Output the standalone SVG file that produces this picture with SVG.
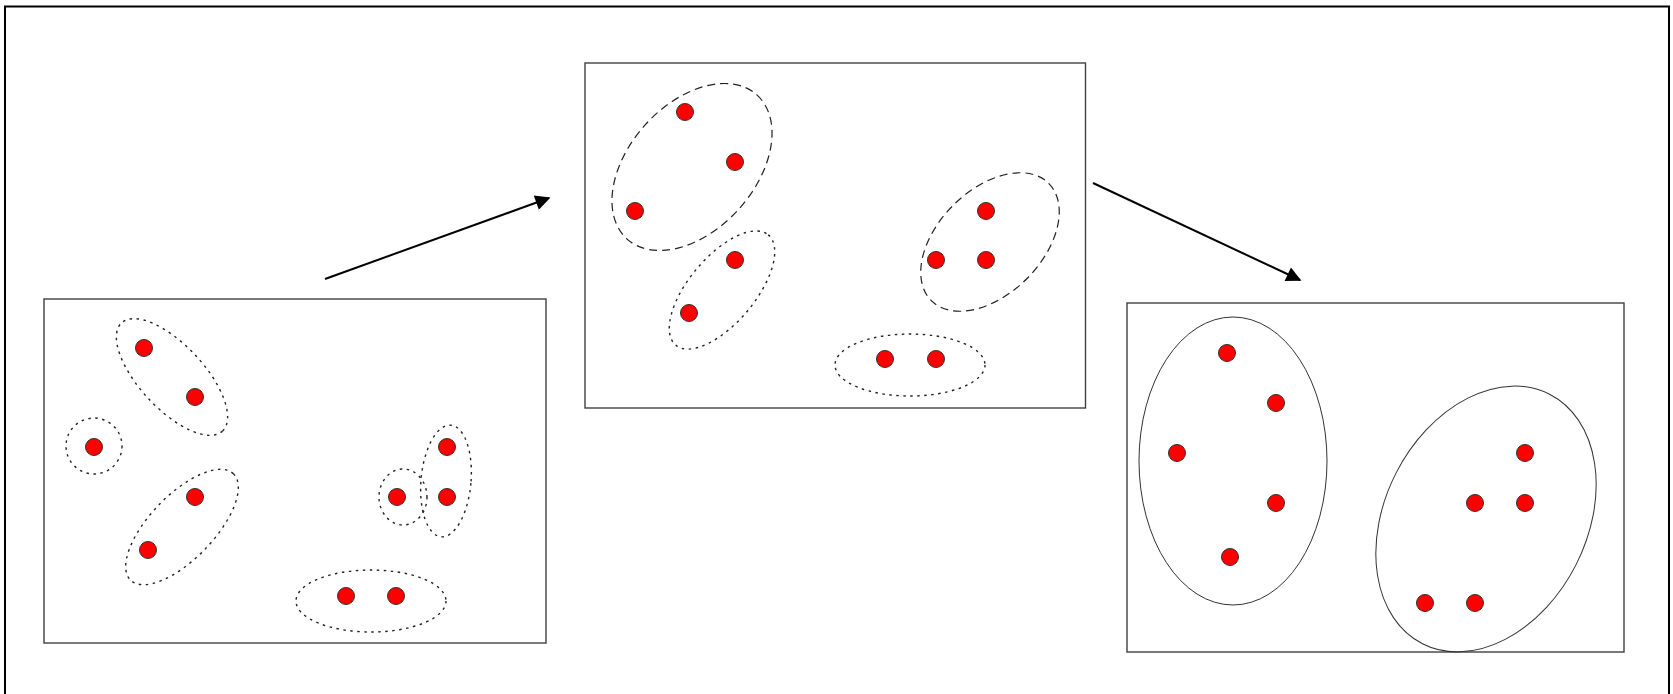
<svg xmlns="http://www.w3.org/2000/svg" width="1673" height="694" viewBox="0 0 1673 694">
<style>
.frame{fill:none;stroke:#000;stroke-width:2}
.box{fill:#fff;stroke:#404040;stroke-width:1.4}
.dot{fill:#ff0000;stroke:#333;stroke-width:1}
.dotted{fill:none;stroke:#222;stroke-width:1.4;stroke-dasharray:2.5 4.5}
.dashed{fill:none;stroke:#222;stroke-width:1.2;stroke-dasharray:8 5}
.solid{fill:none;stroke:#333;stroke-width:1}
.conn{fill:none;stroke:#000;stroke-width:2}
</style>
<defs>
<marker id="ah" viewBox="0 0 10 10" refX="9" refY="5" markerWidth="8.5" markerHeight="7.5" markerUnits="strokeWidth" orient="auto">
<path d="M0,0 L10,5 L0,10 z" fill="#000"/>
</marker>
</defs>
<rect width="1673" height="694" fill="#fff"/>
<rect class="frame" x="5" y="6.5" width="1664" height="720"/>

<g id="stage1">
<rect class="box" x="44" y="299" width="502" height="344"/>
<ellipse class="dotted" cx="172" cy="377" rx="74" ry="32" transform="rotate(47 172 377)"/>
<circle class="dotted" cx="94" cy="446" r="28"/>
<ellipse class="dotted" cx="182" cy="527" rx="74" ry="32" transform="rotate(-46 182 527)"/>
<ellipse class="dotted" cx="403" cy="497" rx="24" ry="28"/>
<ellipse class="dotted" cx="446" cy="481" rx="25" ry="56" transform="rotate(5 446 481)"/>
<ellipse class="dotted" cx="371" cy="601" rx="75" ry="31"/>
<circle class="dot" cx="144" cy="348" r="8.5"/>
<circle class="dot" cx="195" cy="397" r="8.5"/>
<circle class="dot" cx="94" cy="447" r="8.5"/>
<circle class="dot" cx="195" cy="497" r="8.5"/>
<circle class="dot" cx="148" cy="550" r="8.5"/>
<circle class="dot" cx="397" cy="497" r="8.5"/>
<circle class="dot" cx="447" cy="447" r="8.5"/>
<circle class="dot" cx="447" cy="497" r="8.5"/>
<circle class="dot" cx="346" cy="596" r="8.5"/>
<circle class="dot" cx="396" cy="596" r="8.5"/>
</g>

<g id="stage2">
<rect class="box" x="585" y="63" width="500.5" height="345"/>
<ellipse class="dashed" cx="692" cy="167" rx="97" ry="63" transform="rotate(-48 692 167)"/>
<ellipse class="dotted" cx="722" cy="290" rx="72" ry="33" transform="rotate(-50 722 290)"/>
<ellipse class="dashed" cx="990" cy="242" rx="83" ry="52" transform="rotate(-45 990 242)"/>
<ellipse class="dotted" cx="910" cy="365" rx="75" ry="31"/>
<circle class="dot" cx="685" cy="112" r="8.5"/>
<circle class="dot" cx="735" cy="162" r="8.5"/>
<circle class="dot" cx="635" cy="211" r="8.5"/>
<circle class="dot" cx="735" cy="260" r="8.5"/>
<circle class="dot" cx="689" cy="313" r="8.5"/>
<circle class="dot" cx="936" cy="260" r="8.5"/>
<circle class="dot" cx="986" cy="211" r="8.5"/>
<circle class="dot" cx="986" cy="260" r="8.5"/>
<circle class="dot" cx="885" cy="359" r="8.5"/>
<circle class="dot" cx="936" cy="359" r="8.5"/>
</g>

<g id="stage3">
<rect class="box" x="1127" y="303" width="497" height="349"/>
<ellipse class="solid" cx="1233" cy="461" rx="94" ry="144"/>
<ellipse class="solid" cx="1486" cy="519" rx="101" ry="140" transform="rotate(27 1486 519)"/>
<circle class="dot" cx="1227" cy="353" r="8.5"/>
<circle class="dot" cx="1276" cy="403" r="8.5"/>
<circle class="dot" cx="1177" cy="453" r="8.5"/>
<circle class="dot" cx="1276" cy="503" r="8.5"/>
<circle class="dot" cx="1230" cy="557" r="8.5"/>
<circle class="dot" cx="1525" cy="453" r="8.5"/>
<circle class="dot" cx="1475" cy="503" r="8.5"/>
<circle class="dot" cx="1525" cy="503" r="8.5"/>
<circle class="dot" cx="1425" cy="603" r="8.5"/>
<circle class="dot" cx="1475" cy="603" r="8.5"/>
</g>

<g id="connectors">
<line class="conn" x1="325" y1="279" x2="549" y2="198" marker-end="url(#ah)"/>
<line class="conn" x1="1093" y1="183" x2="1300" y2="280" marker-end="url(#ah)"/>
</g>
</svg>
